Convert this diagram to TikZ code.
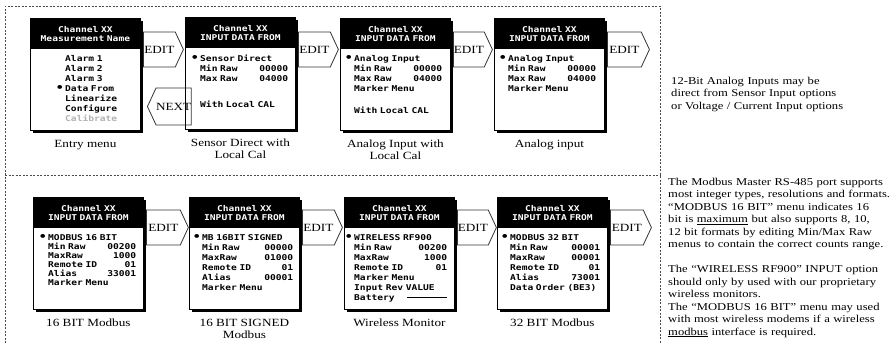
\documentclass[tikz,border=0pt]{standalone}
\usepackage{fontspec}
\setmainfont{Liberation Serif}[FakeStretch=1.2,Ligatures=TeX]
\newfontfamily\lcdfont{DejaVu Sans Mono}[FakeStretch=1.2]
\usetikzlibrary{positioning,shapes.symbols,shadows}
\newcommand{\selmark}{\leavevmode\llap{{\fontsize{11}{10}\selectfont\textbullet}\hspace{1.5pt}}}

\begin{document}
\begin{tikzpicture}[
  x=1pt, y=-1pt,
  frame/.style={draw=black!70,line width=0.9pt,dash pattern=on 2pt off 1.5pt},
  scr/.style={draw,fill=white,line width=0.8pt,anchor=north west,inner sep=0pt,
    minimum width=110pt,minimum height=112pt,
    drop shadow={shadow xshift=3pt,shadow yshift=-3pt,fill=black,opacity=1}},
  hdr/.style={fill=black,text=white,anchor=north,inner sep=0pt,text width=110pt,
    minimum height=31pt,align=center,font=\lcdfont\bfseries\fontsize{8}{9}\selectfont},
  menu/.style={anchor=base west,inner sep=0pt,text width=88pt,align=left,
    font=\lcdfont\bfseries\fontsize{8}{10}\selectfont},
  lbl/.style={inner sep=0pt,align=center,font=\fontsize{11}{12}\selectfont},
  edit/.style={signal,signal to=east,draw=black!80,line width=0.8pt,inner sep=0pt,
    minimum height=35pt,signal pointer angle=130,anchor=west,
    font=\fontsize{11}{12}\selectfont},
  note/.style={anchor=base west,inner sep=0pt,text width=240pt,align=left,
    font=\fontsize{10.5}{12.5}\selectfont}
]
\useasboundingbox[fill=white] (0,0) rectangle (896,343);

% dashed frame round the menus
\draw[frame] (5,343) -- (5,6) -- (660,6) -- (660,343);
\draw[frame] (5,175) -- (660,175);

% analog input screens
\node[scr] (s1) at (30,18) {};
\node[hdr] (h1) at (s1.north) {Channel XX\\Measurement Name};
\node[menu,text width=60pt] (m1) at (65,61) {Alarm 1\\Alarm 2\\Alarm 3\\\selmark Data From\\Linearize\\Configure\\\textcolor{black!30}{Calibrate}};
\node[lbl,below=9pt of s1] (l1) {Entry menu};

\node[scr] (s2) at (185,17) {};
\node[hdr] (h2) at (s2.north) {Channel XX\\INPUT DATA FROM};
\node[menu] (m2) at (200,61) {\selmark Sensor Direct\\Min Raw\hfill 00000\\Max Raw\hfill 04000\\[16pt]With Local CAL};
\node[lbl,below=9pt of s2] (l2) {Sensor Direct with\\Local Cal};

\node[scr] (s3) at (340,18) {};
\node[hdr] (h3) at (s3.north) {Channel XX\\INPUT DATA FROM};
\node[menu] (m3) at (354,61) {\selmark Analog Input\\Min Raw\hfill 00000\\Max Raw\hfill 04000\\Marker Menu\\[12pt]With Local CAL};
\node[lbl,below=9pt of s3] (l3) {Analog Input with\\Local Cal};

\node[scr] (s4) at (494,18) {};
\node[hdr] (h4) at (s4.north) {Channel XX\\INPUT DATA FROM};
\node[menu] (m4) at (508,61) {\selmark Analog Input\\Min Raw\hfill 00000\\Max Raw\hfill 04000\\Marker Menu};
\node[lbl,below=9pt of s4] (l4) {Analog input};

\node[edit,minimum width=40pt] (e1) at (143,49.5) {EDIT};
\node[edit,minimum width=40pt] (e2) at (298,49.5) {EDIT};
\node[edit,minimum width=39pt] (e3) at (453,49.5) {EDIT};
\node[edit,minimum width=42pt] (e4) at (607,49.5) {EDIT};
\node[edit,signal to=west,minimum width=38pt,minimum height=37pt] (n1) at (147,106.5) {NEXT};

% modbus and wireless screens
\node[scr] (s5) at (33,197) {};
\node[hdr] (h5) at (s5.north) {Channel XX\\INPUT DATA FROM};
\node[menu,font=\lcdfont\bfseries\fontsize{8}{9}\selectfont] (m5) at (48,240) {\selmark MODBUS 16 BIT\\Min Raw\hfill 00200\\MaxRaw\hfill 1000\\Remote ID\hfill 01\\Alias\hfill 33001\\Marker Menu};
\node[lbl,below=9pt of s5] (l5) {16 BIT Modbus};

\node[scr] (s6) at (189,197) {};
\node[hdr] (h6) at (s6.north) {Channel XX\\INPUT DATA FROM};
\node[menu,text width=91pt] (m6) at (202,240) {\selmark MB 16BIT SIGNED\\Min Raw\hfill 00000\\MaxRaw\hfill 01000\\Remote ID\hfill 01\\Alias\hfill 00001\\Marker Menu};
\node[lbl,below=9pt of s6] (l6) {16 BIT SIGNED\\Modbus};

\node[scr] (s7) at (344,197) {};
\node[hdr] (h7) at (s7.north) {Channel XX\\INPUT DATA FROM};
\node[menu,text width=93pt] (m7) at (354,240) {\selmark WIRELESS RF900\\Min Raw\hfill 00200\\MaxRaw\hfill 1000\\Remote ID\hfill 01\\Marker Menu\\Input Rev VALUE\\Battery\hfill\rule[2pt]{40pt}{0.6pt}};
\node[lbl,below=9pt of s7] (l7) {Wireless Monitor};

\node[scr] (s8) at (497,197) {};
\node[hdr] (h8) at (s8.north) {Channel XX\\INPUT DATA FROM};
\node[menu,text width=90pt] (m8) at (510,240) {\selmark MODBUS 32 BIT\\Min Raw\hfill 00001\\MaxRaw\hfill 00001\\Remote ID\hfill 01\\Alias\hfill 73001\\Data Order (BE3)};
\node[lbl,below=9pt of s8] (l8) {32 BIT Modbus};

\node[edit,minimum width=42pt] (e5) at (146,227.5) {EDIT};
\node[edit,minimum width=40pt] (e6) at (302,227.5) {EDIT};
\node[edit,minimum width=39pt] (e7) at (457,227.5) {EDIT};
\node[edit,minimum width=41pt] (e8) at (610,227.5) {EDIT};

% notes on the right
\node[note] (t1) at (671,84) {12-Bit Analog Inputs may be\\direct from Sensor Input options\\or Voltage / Current Input options};
\node[note] (t2) at (668,185) {The Modbus Master RS-485 port supports\\most integer types, resolutions and formats.\\``MODBUS 16 BIT'' menu indicates 16\\bit is \underline{maximum} but also supports 8, 10,\\12 bit formats by editing Min/Max Raw\\menus to contain the correct counts range.\\[12.5pt]The ``WIRELESS RF900'' INPUT option\\should only by used with our proprietary\\wireless monitors.\\The ``MODBUS 16 BIT'' menu may used\\with most wireless modems if a wireless\\\underline{modbus} interface is required.};
\end{tikzpicture}
\end{document}
